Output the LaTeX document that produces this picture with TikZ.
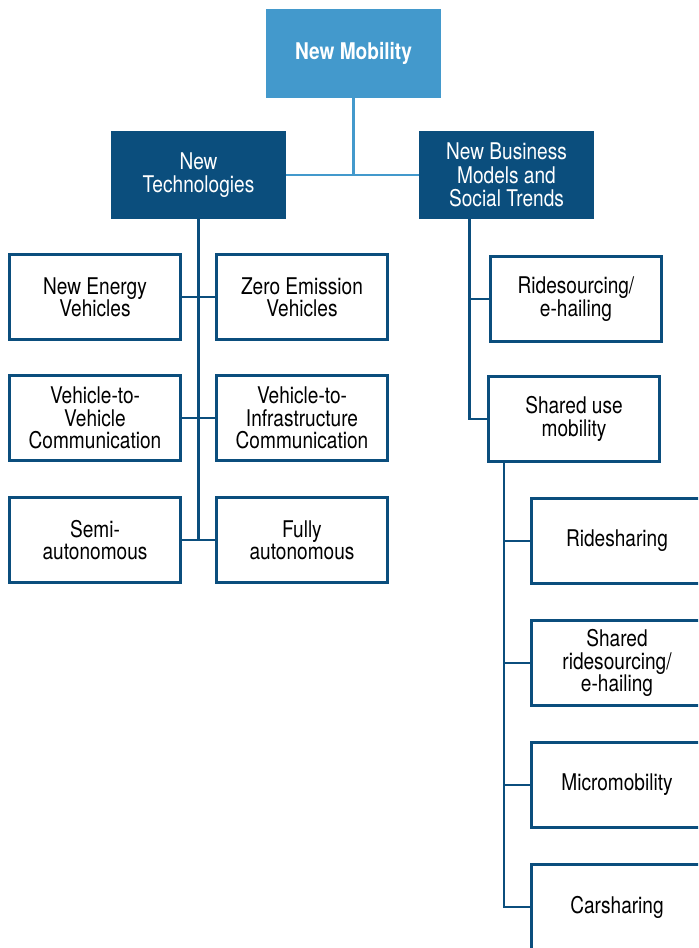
\documentclass[tikz,border=0pt]{standalone}
\usepackage{fontspec}
\setmainfont{TeX Gyre Heros}[FakeStretch=0.83]
\definecolor{mobblue}{RGB}{67,153,204}
\definecolor{mobdark}{RGB}{11,78,125}
\tikzset{
  topbox/.style={fill=mobblue,text=white,font=\bfseries\fontsize{11.5}{11.4}\selectfont,
    minimum width=87.5pt,minimum height=44.5pt,inner sep=0pt,align=center},
  mainbox/.style={fill=mobdark,text=white,font=\fontsize{11.5}{11.6}\selectfont,
    minimum width=87.5pt,minimum height=44pt,inner sep=0pt,align=center},
  leafbox/.style={draw=mobdark,line width=1.5pt,fill=white,text=black,
    font=\fontsize{11.5}{11.2}\selectfont,
    minimum width=85.5pt,minimum height=42.5pt,inner sep=0pt,align=center},
  link/.style={mobdark,line width=1.2pt},
  toplink/.style={mobblue,line width=1.3pt}
}
\begin{document}
\begin{tikzpicture}[x=0.5pt,y=-0.5pt]
   \clip (0,0) rectangle (698,948);
   \useasboundingbox (0,0) rectangle (698,948);
   % top of the tree
   \node [topbox] (mob) at (353.5,53.5) {New Mobility};
   \node [mainbox] (tech) at (198.5,175) {New\\Technologies};
   \node [mainbox] (biz) at (506.5,175) {New Business\\Models and\\Social Trends};
   \draw [toplink] (mob.south) -- (mob.south |- tech.east);
   \draw [toplink] (tech.east) -- (biz.west);
   % technologies
   \draw [link] (tech.south) -- (198.5,540);
   \node [leafbox] (nev) at (95,297) {New Energy\\Vehicles};
   \node [leafbox] (zev) at (302,297) {Zero Emission\\Vehicles};
   \node [leafbox] (v2v) at (95,418) {Vehicle-to-\\Vehicle\\Communication};
   \node [leafbox] (v2i) at (302,418) {Vehicle-to-\\Infrastructure\\Communication};
   \node [leafbox] (semi) at (95,540) {Semi-\\autonomous};
   \node [leafbox] (full) at (302,540) {Fully\\autonomous};
   \draw [link] (nev.east) -- (zev.west);
   \draw [link] (v2v.east) -- (v2i.west);
   \draw [link] (semi.east) -- (full.west);
   % business models
   \node [leafbox] (ride) at (576,299) {Ridesourcing/\\e-hailing};
   \node [leafbox] (share) at (574,419) {Shared use\\mobility};
   \coordinate (biztrunk) at ([xshift=25.5pt]biz.south west);
   \draw [link] (biztrunk) |- (ride.west);
   \draw [link] (biztrunk) |- (share.west);
   % shared use mobility
   \node [leafbox] (rsh) at (617,541) {Ridesharing};
   \node [leafbox] (srs) at (617,663) {Shared\\ridesourcing/\\e-hailing};
   \node [leafbox] (micro) at (617,785) {Micromobility};
   \node [leafbox] (car) at (617,907) {Carsharing};
   \coordinate (sharetrunk) at ([xshift=8.5pt]share.south west);
   \draw [link] (sharetrunk) |- (rsh.west);
   \draw [link] (sharetrunk) |- (srs.west);
   \draw [link] (sharetrunk) |- (micro.west);
   \draw [link] (sharetrunk) |- (car.west);
\end{tikzpicture}
\end{document}
